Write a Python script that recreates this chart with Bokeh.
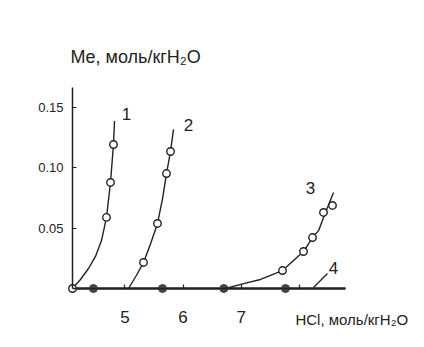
from bokeh.plotting import figure
from bokeh.models import (LinearAxis, FixedTicker, PrintfTickFormatter, Label,
                          Range1d)
from bokeh.embed import file_html
from bokeh.resources import INLINE

# HCl molality (x) vs. dissolved metal molality (y)
# curve 1: measured points and the traced curve
s1_x = [4.10, 4.684, 4.753, 4.804]
s1_y = [0.0, 0.059, 0.088, 0.1195]
c1_x = [4.10, 4.237, 4.375, 4.495, 4.598, 4.684, 4.753, 4.804, 4.822]
c1_y = [0.0, 0.0075, 0.0166, 0.0266, 0.0398, 0.059, 0.088, 0.1195, 0.139]

# curve 2
s2_x = [5.32, 5.56, 5.715, 5.784]
s2_y = [0.0216, 0.054, 0.0954, 0.1137]
c2_x = [5.062, 5.20, 5.32, 5.44, 5.56, 5.645, 5.715, 5.784, 5.835]
c2_y = [0.0, 0.011, 0.0216, 0.037, 0.054, 0.074, 0.0954, 0.1137, 0.132]

# curve 3
s3_x = [7.708, 8.069, 8.224, 8.413, 8.567]
s3_y = [0.0149, 0.0307, 0.0423, 0.0631, 0.0689]
c3_x = [6.73, 7.04, 7.33, 7.708, 8.069, 8.224, 8.328, 8.447, 8.585]
c3_y = [0.0, 0.0041, 0.0075, 0.0149, 0.0307, 0.0423, 0.048, 0.063, 0.0797]

# curve 4: stays at zero
s4_x = [4.46, 5.646, 6.70, 7.76]
s4_y = [0.0, 0.0, 0.0, 0.0]
c4_x = [4.10, 8.79]
c4_y = [0.0, 0.0]

x_ticks = [5, 6, 7, 8]
y_ticks = [0.05, 0.10, 0.15]

FONT = "Liberation Sans"
INK = "#222222"

# the frame covers the whole canvas; axes are pinned at x=4.1 and y=0
p = figure(width=424, height=347, output_backend="svg", toolbar_location=None,
           x_range=Range1d(2.8629, 10.148), y_range=Range1d(-0.04896, 0.2390),
           x_axis_type=None, y_axis_type=None,
           min_border_left=0, min_border_right=0,
           min_border_top=0, min_border_bottom=0)
p.outline_line_color = None
p.grid.visible = False
p.background_fill_color = "white"
p.border_fill_color = "white"

xaxis = LinearAxis(fixed_location=0, bounds=(4.10, 8.79),
                   ticker=FixedTicker(ticks=x_ticks),
                   major_label_overrides={8: ""})
xaxis.axis_line_width = 1.5
xaxis.axis_line_color = INK
xaxis.major_tick_in = 4
xaxis.major_tick_out = 0
xaxis.major_tick_line_color = INK
xaxis.major_tick_line_width = 1.2
xaxis.minor_tick_line_color = None
xaxis.major_label_standoff = 22
xaxis.major_label_text_font = FONT
xaxis.major_label_text_font_size = "17px"
xaxis.major_label_text_color = INK
p.add_layout(xaxis, "below")

yaxis = LinearAxis(fixed_location=4.10, bounds=(0, 0.1668),
                   ticker=FixedTicker(ticks=y_ticks),
                   formatter=PrintfTickFormatter(format="%.2f"))
yaxis.axis_line_width = 1.5
yaxis.axis_line_color = INK
yaxis.major_tick_in = 4
yaxis.major_tick_out = 0
yaxis.major_tick_line_color = INK
yaxis.major_tick_line_width = 1.2
yaxis.minor_tick_line_color = None
yaxis.major_label_standoff = 9
yaxis.major_label_text_font = FONT
yaxis.major_label_text_font_size = "13px"
yaxis.major_label_text_color = INK
p.add_layout(yaxis, "left")

# curve 4 line sits on the x axis
p.line(c4_x, c4_y, line_color="#333333", line_width=2.4)
p.scatter(s4_x, s4_y, size=8, marker="circle", fill_color="#444444",
          line_color="#444444")

for cx, cy, sx, sy in [(c1_x, c1_y, s1_x, s1_y),
                       (c2_x, c2_y, s2_x, s2_y),
                       (c3_x, c3_y, s3_x, s3_y)]:
    p.line(cx, cy, line_color=INK, line_width=1.4)
    p.scatter(sx, sy, size=7.5, marker="circle", fill_color="white",
              line_color=INK, line_width=1.4)

# leader line for curve 4 label
p.line([8.241, 8.481], [0.0008, 0.0124], line_color=INK, line_width=1.3)

# curve numbers
for txt, lx, ly in [("1", 5.028, 0.1452), ("2", 6.093, 0.1353),
                    ("3", 8.19, 0.0838), ("4", 8.585, 0.0174)]:
    p.add_layout(Label(x=lx, y=ly, text=txt, text_font=FONT,
                       text_font_size="17px", text_color=INK,
                       text_align="center", text_baseline="middle"))

# axis titles
p.add_layout(Label(x=4.066, y=0.1917, text="Me, моль/кгH₂O", text_font=FONT,
                   text_font_size="18px", text_color=INK,
                   text_align="left", text_baseline="middle"))
p.add_layout(Label(x=7.93, y=-0.0257, text="HCl, моль/кгH₂O", text_font=FONT,
                   text_font_size="15px", text_color=INK,
                   text_align="left", text_baseline="middle"))

open("out.html", "w").write(file_html(p, INLINE))
